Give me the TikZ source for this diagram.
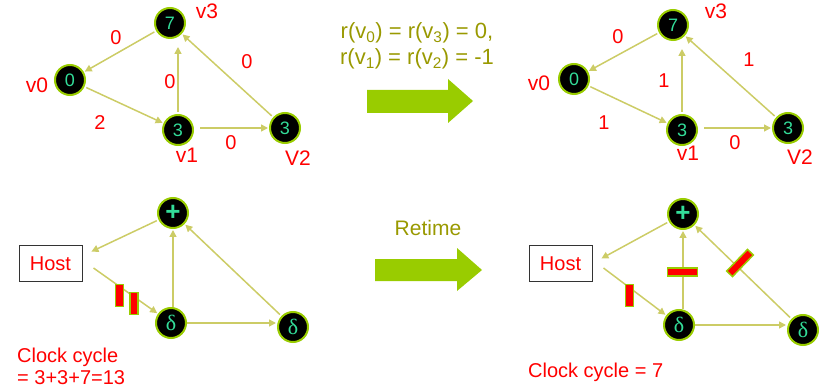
\documentclass[tikz,border=0pt]{standalone}
\usepackage{fontspec}
\setmainfont{Liberation Sans}
\newfontfamily\grkserif{Liberation Serif}
\usetikzlibrary{arrows.meta}
\definecolor{ngreen}{RGB}{153,204,0}
\definecolor{edgec}{RGB}{204,204,102}
\definecolor{numc}{RGB}{51,221,153}
\definecolor{olivec}{RGB}{153,153,0}
\begin{document}
\begin{tikzpicture}[x=1pt,y=-1pt,
  vnode/.style={circle,fill=black,draw=ngreen,line width=2pt,minimum size=30pt,inner sep=0pt,text=numc,font=\fontsize{18}{20}\selectfont},
  dnode/.style={vnode,font=\grkserif\fontsize{22}{22}\selectfont},
  pnode/.style={vnode,font=\fontsize{26}{26}\selectfont\bfseries},
  edge/.style={draw=edgec,line width=1.5pt,-{Triangle[length=7pt,width=7pt]},shorten >=1pt,shorten <=2pt},
  lab/.style={text=red,font=\fontsize{20}{22}\selectfont,inner sep=0pt},
  vlab/.style={text=red,font=\fontsize{21}{23}\selectfont,inner sep=0pt},
  bar/.style={fill=red,draw=ngreen,line width=1.5pt,inner sep=0pt},
  vbar/.style={bar,minimum width=8pt,minimum height=22pt},
  hbar/.style={bar,minimum width=30pt,minimum height=8pt},
  hostbox/.style={draw=black!80,line width=1pt,minimum width=63pt,minimum height=35pt,inner sep=0pt,text=red,font=\fontsize{20}{22}\selectfont},
  midtext/.style={text=olivec,font=\fontsize{22}{26}\selectfont,inner sep=0pt,align=center}]
\useasboundingbox (0,0) rectangle (821,387);

% ---------- top left graph ----------
\node[vnode] (a3) at (170,23) {7};
\node[vnode] (a0) at (70,80) {0};
\node[vnode] (a1) at (178,130) {3};
\node[vnode] (a2) at (285,128) {3};
\draw[edge] (a3) -- (a0);
\draw[edge] (a0) -- (a1);
\draw[edge,shorten >=8pt] (a1) -- (a1 |- a3.south);
\draw[edge,shorten <=22pt] (a1 |- a2) -- (a2);
\draw[edge] (a2) -- (a3);
\node[vlab] (la3) at (207,11) {v3};
\node[vlab] (la0) at (37,85) {v0};
\node[vlab] (la1) at (187,155) {v1};
\node[vlab] (la2) at (298,158) {V2};
\node[lab] (ea30) at (116,38) {0};
\node[lab] (ea13) at (170,82) {0};
\node[lab] (ea23) at (247,62) {0};
\node[lab] (ea01) at (100,123) {2};
\node[lab] (ea12) at (231,143) {0};

% ---------- top right graph ----------
\node[vnode] (b3) at (673,25) {7};
\node[vnode] (b0) at (574,79) {0};
\node[vnode] (b1) at (682,130) {3};
\node[vnode] (b2) at (788,128) {3};
\draw[edge] (b3) -- (b0);
\draw[edge] (b0) -- (b1);
\draw[edge,shorten >=8pt] (b1) -- (b1 |- b3.south);
\draw[edge,shorten <=22pt] (b1 |- b2) -- (b2);
\draw[edge] (b2) -- (b3);
\node[vlab] (lb3) at (716,11) {v3};
\node[vlab] (lb0) at (539,83) {v0};
\node[vlab] (lb1) at (688,153) {v1};
\node[vlab] (lb2) at (800,157) {V2};
\node[lab] (eb30) at (618,37) {0};
\node[lab] (eb13) at (664,81) {1};
\node[lab] (eb23) at (749,60) {1};
\node[lab] (eb01) at (604,123) {1};
\node[lab] (eb12) at (735,143) {0};

% ---------- middle text and arrows ----------
\node[midtext] (rtext) at (417,46) {r(v\textsubscript{0}) = r(v\textsubscript{3}) = 0,\\ r(v\textsubscript{1}) = r(v\textsubscript{2}) = -1};
\fill[ngreen] (367,90) -- (448,90) -- (448,79) -- (473,101) -- (448,123) -- (448,113) -- (367,113) -- cycle;
\node[midtext,font=\fontsize{21}{24}\selectfont] (retime) at (428,228) {Retime};
\fill[ngreen] (375,259) -- (457,259) -- (457,248) -- (482,270) -- (457,291) -- (457,281) -- (375,281) -- cycle;

% ---------- bottom left graph ----------
\node[pnode] (p1) at (173,213) {+};
\node[dnode] (d1) at (171,323) {δ};
\node[dnode] (e1) at (293,327) {δ};
\node[hostbox] (h1) at (50.5,263.5) {Host};
\draw[edge] (p1) -- ([xshift=8pt,yshift=11.5pt]h1.east);
\draw[edge,shorten <=0pt] ([xshift=11pt,yshift=-4.5pt]h1.east) -- (d1);
\draw[edge,shorten <=0pt] (p1 |- d1.north) -- (p1);
\draw[edge,shorten <=0pt] (d1.east) -- (d1 -| e1.west);
\draw[edge] (e1) -- (p1);
\node[vbar] (r1) at (119.5,295.5) {};
\node[vbar] (r2) at (134,303.5) {};
\node[lab,anchor=base west] (cc1) at (17,362) {Clock cycle};
\node[lab,anchor=base west] (cc2) at (17,384) {= 3+3+7=13};

% ---------- bottom right graph ----------
\node[pnode] (p2) at (683,214) {+};
\node[dnode] (d2) at (679,325) {δ};
\node[dnode] (e2) at (803,330) {δ};
\node[hostbox] (h2) at (560.5,263.5) {Host};
\draw[edge] (p2) -- ([xshift=8pt,yshift=4.5pt]h2.east);
\draw[edge,shorten <=0pt] ([xshift=11pt,yshift=-4.5pt]h2.east) -- (d2);
\draw[edge,shorten <=0pt] (p2 |- d2.north) -- (p2);
\draw[edge,shorten <=0pt] (d2.east) -- (d2 -| e2.west);
\draw[edge] (e2) -- (p2);
\node[vbar] (r3) at (629.5,295.5) {};
\node[hbar] (r4) at (682.5,272) {};
\node[hbar,rotate=46] (r5) at (740,263) {};
\node[lab,anchor=base west] (cc3) at (528,377) {Clock cycle = 7};
\end{tikzpicture}
\end{document}
